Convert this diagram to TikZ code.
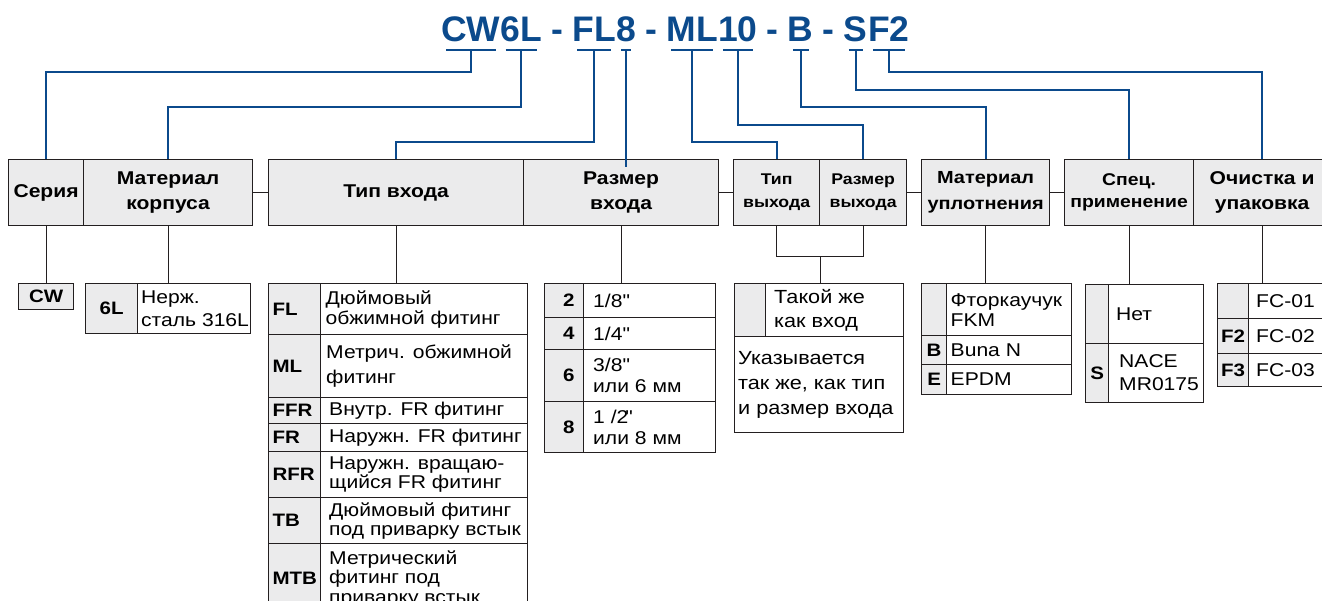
\documentclass[tikz,border=0pt]{standalone}
\usepackage{fontspec}
\setmainfont{Liberation Sans}[FakeStretch=1.14]
\newfontfamily\titlefont{Liberation Sans}
\definecolor{codeblue}{HTML}{0B4A8C}
\definecolor{boxgray}{HTML}{EBEBEC}
\definecolor{ink}{HTML}{231F20}
\newcommand{\cellfs}[2]{\fontsize{#1}{#2}\selectfont}
\newcommand{\inchmark}{\XeTeXglyph\XeTeXcharglyph"22\relax}

\begin{document}
\begin{tikzpicture}[x=1pt,y=-1pt,
    wire/.style={draw=ink,line width=1.2pt},
    link/.style={draw=codeblue,line width=2pt},
    part/.style={font=\titlefont\fontsize{35.5}{36}\selectfont\bfseries,text=codeblue,inner sep=0pt,anchor=base west},
    hdr/.style={wire,fill=boxgray,anchor=north west,minimum height=66pt,inner sep=0pt,align=center,font=\bfseries\cellfs{18.5}{25}},
    box/.style={wire,anchor=north west,inner sep=0pt},
    txt/.style={anchor=west,inner sep=0pt,align=left,font=\cellfs{18.5}{20}},
    code/.style={box,fill=boxgray,align=center,font=\bfseries\cellfs{18}{20}}]
\clip (0,0) rectangle (1322,601);

% order code
\node[part] (pcw) at (441,42) {CW};
\node[part] (p6l) at (pcw.base east) {6L};
\node[part] (pd1) at (p6l.base east) {\kern0.25em-\kern0.25em};
\node[part] (pfl) at (pd1.base east) {FL};
\node[part] (p8) at (pfl.base east) {8};
\node[part] (pd2) at (p8.base east) {\kern0.25em-\kern0.25em};
\node[part] (pml) at (pd2.base east) {ML};
\node[part] (p10) at (pml.base east) {10};
\node[part] (pd3) at (p10.base east) {\kern0.25em-\kern0.25em};
\node[part] (pb) at (pd3.base east) {B};
\node[part] (pd4) at (pb.base east) {\kern0.25em-\kern0.25em};
\node[part] (ps) at (pd4.base east) {S};
\node[part] (pf2) at (ps.base east) {F2};
\foreach \p in {pcw,p6l,pfl,p8,pml,p10,pb,ps,pf2}
  \draw[link,shorten <=5pt,shorten >=5pt] ([yshift=-8pt]\p.base west) -- ([yshift=-8pt]\p.base east);

% header row
\node[hdr,minimum width=75pt] (serija) at (8,159) {Серия};
\node[hdr,minimum width=169pt] (matkorp) at (83,159) {Материал\\корпуса};
\node[hdr,minimum width=255pt] (tipvh) at (268,159) {Тип входа};
\node[hdr,minimum width=195pt] (razvh) at (523,159) {Размер\\входа};
\node[hdr,minimum width=86pt,font=\bfseries\cellfs{15.5}{23}] (tipvyh) at (733,159) {Тип\\выхода};
\node[hdr,minimum width=87pt,font=\bfseries\cellfs{15.5}{23}] (razvyh) at (819,159) {Размер\\выхода};
\node[hdr,minimum width=128pt,font=\bfseries\cellfs{17.5}{26}] (matupl) at (921,159) {Материал\\уплотнения};
\node[hdr,minimum width=129pt,font=\bfseries\cellfs{17}{22}] (spec) at (1064,159) {Спец.\\применение};
\node[hdr,minimum width=137pt] (ochist) at (1193,159) {Очистка и\\упаковка};
\draw[wire] (matkorp.east) -- (tipvh.west);
\draw[wire] (razvh.east) -- (tipvyh.west);
\draw[wire] (razvyh.east) -- (matupl.west);
\draw[wire] (matupl.east) -- (spec.west);

% code to header
\draw[link] ([yshift=-8pt]pcw.base) -- ++(0,22) -| (serija.north);
\draw[link] ([yshift=-8pt]p6l.base) -- ++(0,57) -| (matkorp.north);
\draw[link] ([yshift=-8pt]pfl.base) -- ++(0,92) -| (tipvh.north);
\draw[link] ([yshift=-8pt]p8.base) -- ([yshift=-8pt]p8.base |- razvh.north);
\draw[link] ([yshift=-8pt]pml.base) -- ++(0,92) -| (tipvyh.north);
\draw[link] ([yshift=-8pt]p10.base) -- ++(0,75) -| (razvyh.north);
\draw[link] ([yshift=-8pt]pb.base) -- ++(0,57) -| (matupl.north);
\draw[link] ([yshift=-8pt]ps.base) -- ++(0,40) -| (spec.north);
\draw[link] ([yshift=-8pt]pf2.base) -- ++(0,22) -| (ochist.north);

% series, body
\node[code,minimum width=55pt,minimum height=26pt] (cw) at (18,283) {CW};
\node[code,minimum width=52pt,minimum height=50pt] (c6l) at (85,283) {6L};
\node[box,minimum width=113pt,minimum height=50pt] (b6l) at (137,283) {};
\node[txt,font=\cellfs{18.5}{23}] (t6l) at ([xshift=4pt]b6l.west) {Нерж.\\сталь 316L};

% inlet type
\node[code,align=left,inner xsep=4pt,text width=44pt,minimum height=51pt] (cfl) at (268,283) {FL};
\node[code,align=left,inner xsep=4pt,text width=44pt,minimum height=63pt] (cml) at (268,334) {ML};
\node[code,align=left,inner xsep=4pt,text width=44pt,minimum height=26pt] (cffr) at (268,397) {FFR};
\node[code,align=left,inner xsep=4pt,text width=44pt,minimum height=28pt] (cfr) at (268,423) {FR};
\node[code,align=left,inner xsep=4pt,text width=44pt,minimum height=46pt] (crfr) at (268,451) {RFR};
\node[code,align=left,inner xsep=4pt,text width=44pt,minimum height=46pt] (ctb) at (268,497) {TB};
\node[code,align=left,inner xsep=4pt,text width=44pt,minimum height=70pt] (cmtb) at (268,543) {MTB};
\node[box,minimum width=207pt,minimum height=51pt] (bfl) at (320,283) {};
\node[box,minimum width=207pt,minimum height=63pt] (bml) at (320,334) {};
\node[box,minimum width=207pt,minimum height=26pt] (bffr) at (320,397) {};
\node[box,minimum width=207pt,minimum height=28pt] (bfr) at (320,423) {};
\node[box,minimum width=207pt,minimum height=46pt] (brfr) at (320,451) {};
\node[box,minimum width=207pt,minimum height=46pt] (btb) at (320,497) {};
\node[box,minimum width=207pt,minimum height=70pt] (bmtb) at (320,543) {};
\node[txt] (tfl) at ([xshift=5.5pt]bfl.west) {Дюймовый\\обжимной фитинг};
\node[txt,font=\cellfs{18.5}{25}] (tml) at ([xshift=6pt]bml.west) {Метрич. обжимной\\фитинг};
\node[txt] (tffr) at ([xshift=9pt]bffr.west) {Внутр. FR фитинг};
\node[txt] (tfr) at ([xshift=9pt]bfr.west) {Наружн. FR фитинг};
\node[txt,font=\cellfs{18.5}{19}] (trfr) at ([xshift=9pt]brfr.west) {Наружн. вращаю-\\щийся FR фитинг};
\node[txt,font=\cellfs{18.5}{19}] (ttb) at ([xshift=9pt]btb.west) {Дюймовый фитинг\\под приварку встык};
\node[txt,font=\cellfs{18.5}{19.5}] (tmtb) at ([xshift=9pt]bmtb.west) {Метрический\\фитинг под\\приварку встык};

% inlet size
\node[code,align=right,inner xsep=9pt,text width=21pt,minimum height=34pt] (c2) at (544,283) {2};
\node[code,align=right,inner xsep=9pt,text width=21pt,minimum height=32pt] (c4) at (544,317) {4};
\node[code,align=right,inner xsep=9pt,text width=21pt,minimum height=52pt] (c6) at (544,349) {6};
\node[code,align=right,inner xsep=9pt,text width=21pt,minimum height=51pt] (c8) at (544,401) {8};
\node[box,minimum width=132pt,minimum height=34pt] (b2) at (583,283) {};
\node[box,minimum width=132pt,minimum height=32pt] (b4) at (583,317) {};
\node[box,minimum width=132pt,minimum height=52pt] (b6) at (583,349) {};
\node[box,minimum width=132pt,minimum height=51pt] (b8) at (583,401) {};
\node[txt] (t2) at ([xshift=10pt]b2.west) {1/8\inchmark};
\node[txt] (t4) at ([xshift=10pt]b4.west) {1/4\inchmark};
\node[txt,font=\cellfs{18.5}{21}] (t6) at ([xshift=10pt]b6.west) {3/8\inchmark\\или 6 мм};
\node[txt,font=\cellfs{18.5}{21}] (t8) at ([xshift=10pt]b8.west) {1 /2\kern-3pt\inchmark\\или 8 мм};

% outlet
\node[code,minimum width=31pt,minimum height=53pt] (csame) at (734,283) {};
\node[box,minimum width=138pt,minimum height=53pt] (bsame) at (765,283) {};
\node[box,minimum width=169pt,minimum height=96pt] (bnote) at (734,336) {};
\node[txt,font=\cellfs{19}{24}] (tsame) at ([xshift=9pt]bsame.west) {Такой же\\как вход};
\node[txt,font=\cellfs{19}{25}] (tnote) at ([xshift=4pt]bnote.west) {Указывается\\так же, как тип\\и размер входа};
\draw[wire] (tipvyh.south) -- ++(0,30) -| (razvyh.south);
\draw[wire] ([yshift=-30pt]tipvyh.south east) -- (tipvyh.south east |- bsame.north);

% seal material
\node[code,minimum width=25pt,minimum height=52pt] (cfkm) at (921,283) {};
\node[code,minimum width=25pt,minimum height=29pt] (cbuna) at (921,335) {B};
\node[code,minimum width=25pt,minimum height=30pt] (cepdm) at (921,364) {E};
\node[box,minimum width=125pt,minimum height=52pt] (bfkm) at (946,283) {};
\node[box,minimum width=125pt,minimum height=29pt] (bbuna) at (946,335) {};
\node[box,minimum width=125pt,minimum height=30pt] (bepdm) at (946,364) {};
\node[txt] (tfkm) at ([xshift=4.5pt]bfkm.west) {Фторкаучук\\FKM};
\node[txt] (tbuna) at ([xshift=4.5pt]bbuna.west) {Buna N};
\node[txt] (tepdm) at ([xshift=4.5pt]bepdm.west) {EPDM};

% special
\node[code,minimum width=23pt,minimum height=59pt] (cnet) at (1085,284) {};
\node[code,minimum width=23pt,minimum height=59pt] (cnace) at (1085,343) {S};
\node[box,minimum width=95pt,minimum height=59pt] (bnet) at (1108,284) {};
\node[box,minimum width=95pt,minimum height=59pt] (bnace) at (1108,343) {};
\node[txt] (tnet) at ([xshift=8pt]bnet.west) {Нет};
\node[txt,font=\cellfs{18.5}{23}] (tnace) at ([xshift=11pt]bnace.west) {NACE\\MR0175};

% cleaning
\node[code,minimum width=31pt,minimum height=35pt] (cfc1) at (1217,283) {};
\node[code,minimum width=31pt,minimum height=35pt] (cfc2) at (1217,318) {F2};
\node[code,minimum width=31pt,minimum height=33pt] (cfc3) at (1217,353) {F3};
\node[box,minimum width=82pt,minimum height=35pt] (bfc1) at (1248,283) {};
\node[box,minimum width=82pt,minimum height=35pt] (bfc2) at (1248,318) {};
\node[box,minimum width=82pt,minimum height=33pt] (bfc3) at (1248,353) {};
\node[txt] (tfc1) at ([xshift=8pt]bfc1.west) {FC-01};
\node[txt] (tfc2) at ([xshift=8pt]bfc2.west) {FC-02};
\node[txt] (tfc3) at ([xshift=8pt]bfc3.west) {FC-03};

% header to options
\draw[wire] (serija.south) -- (serija.south |- cw.north);
\draw[wire] (matkorp.south) -- (matkorp.south |- c6l.north);
\draw[wire] (tipvh.south) -- (tipvh.south |- cfl.north);
\draw[wire] (razvh.south) -- (razvh.south |- c2.north);
\draw[wire] (matupl.south) -- (matupl.south |- cfkm.north);
\draw[wire] (spec.south) -- (spec.south |- cnet.north);
\draw[wire] (ochist.south) -- (ochist.south |- cfc1.north);
\end{tikzpicture}
\end{document}
